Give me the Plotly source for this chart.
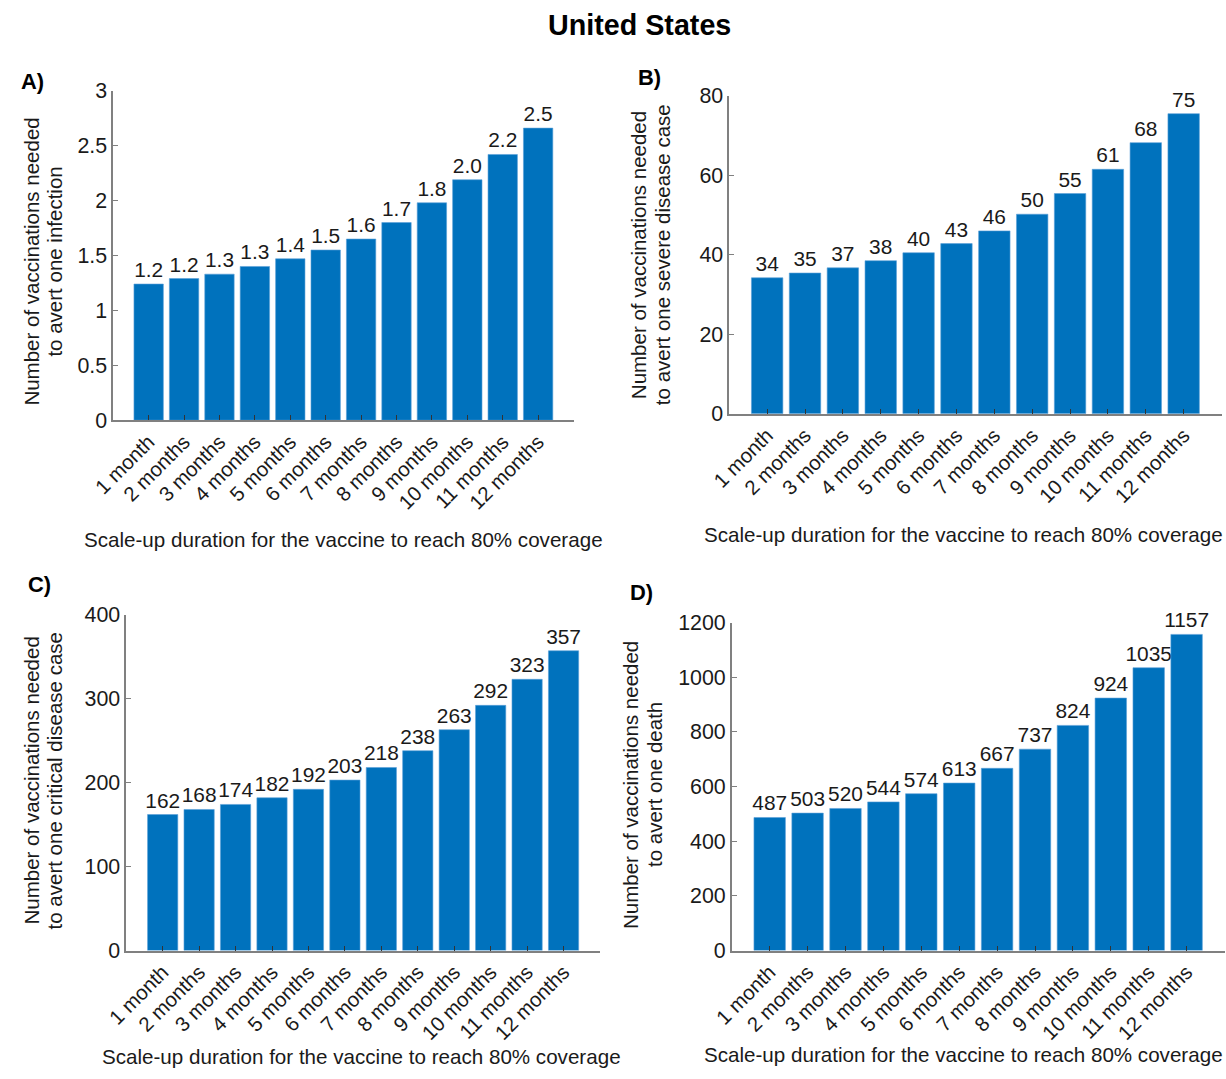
import plotly.graph_objects as go

W, H = 1226, 1079

categories = ["1 month"] + [f"{i} months" for i in range(2, 13)]

# Panel A: infections
vals_a = [1.24, 1.29, 1.33, 1.40, 1.47, 1.55, 1.65, 1.80, 1.98, 2.19, 2.42, 2.66]
labels_a = ["1.2", "1.2", "1.3", "1.3", "1.4", "1.5", "1.6", "1.7", "1.8", "2.0", "2.2", "2.5"]
# Panel B: severe disease
vals_b = [34.2, 35.4, 36.7, 38.5, 40.5, 42.8, 46.0, 50.2, 55.4, 61.5, 68.2, 75.5]
labels_b = ["34", "35", "37", "38", "40", "43", "46", "50", "55", "61", "68", "75"]
# Panel C: critical disease
vals_c = [162, 168, 174, 182, 192, 203, 218, 238, 263, 292, 323, 357]
labels_c = [str(v) for v in vals_c]
# Panel D: deaths
vals_d = [487, 503, 520, 544, 574, 613, 667, 737, 824, 924, 1035, 1157]
labels_d = [str(v) for v in vals_d]

ytitle_line1 = "Number of vaccinations needed"
ytitle_line2 = [
    "to avert one infection",
    "to avert one severe disease case",
    "to avert one critical disease case",
    "to avert one death",
]
xtitle = "Scale-up duration for the vaccine to reach 80% coverage"
panel_letters = ["A)", "B)", "C)", "D)"]
yranges = [[0, 3], [0, 80], [0, 400], [0, 1200]]
ydticks = [0.5, 20, 100, 200]

# target positions in picture pixels (left, right, top, bottom)
boxes = [
    (111, 572, 91, 420.5),
    (728, 1221, 96, 414),
    (124, 598.5, 615, 951),
    (730.5, 1224, 623, 951),
]
# y-title: (x of line 1, x of line 2, y centre)
ytitle_pos = [(29.5, 52.5, 262), (637, 661, 255), (29.5, 52.5, 781), (629, 653, 785)]
xtitle_pos = [(342, 540), (963, 535), (360, 1056.5), (963, 1055)]
letter_pos = [(30, 82), (648, 78), (37, 585), (640, 593)]

# measured picture mapping of the rendered page
SX, OX = 0.9836, 19.6
SY, OY = 0.978, 12.2

FONT = "Liberation Sans, Arial, Helvetica, sans-serif"
BLUE = "#0072BD"
AXC = "#808080"
TXT = "#1a1a1a"

fig = go.Figure()
datasets = [(vals_a, labels_a), (vals_b, labels_b), (vals_c, labels_c), (vals_d, labels_d)]

def px2x(p):
    f = (p - OX) / SX
    return min(max(f / W, 0), 1)

def px2y(p):
    f = (p - OY) / SY
    return min(max(1 - f / H, 0), 1)

for i, (vals, labs) in enumerate(datasets):
    n = "" if i == 0 else str(i + 1)
    fig.add_trace(go.Bar(
        x=list(range(len(categories))), y=vals, text=labs,
        textposition="outside", cliponaxis=False, constraintext="none",
        textfont=dict(family=FONT, size=20.9, color=TXT),
        marker=dict(color=BLUE, line=dict(color="#5aa0d8", width=0.6)),
        xaxis="x" + n, yaxis="y" + n, showlegend=False,
    ))
    l, r, t, b = boxes[i]
    fig.layout["xaxis" + n] = dict(
        domain=[px2x(l), px2x(r)], anchor="y" + n,
        range=[-1, 12], tickmode="array",
        tickvals=list(range(len(categories))), ticktext=categories,
        tickangle=-45, ticks="inside", ticklen=5, tickcolor="#333",
        showline=True, linecolor=AXC, linewidth=1.5, showgrid=False, zeroline=False,
        tickfont=dict(family=FONT, size=20.4, color=TXT),
    )
    fig.layout["yaxis" + n] = dict(
        domain=[px2y(b), px2y(t)], anchor="x" + n,
        range=yranges[i], dtick=ydticks[i], tick0=0,
        ticks="inside", ticklen=5, tickcolor=AXC,
        showline=True, linecolor=AXC, linewidth=1.5, showgrid=False, zeroline=False,
        tickfont=dict(family=FONT, size=21.4, color=TXT),
    )
    x1, x2, yc = ytitle_pos[i]
    for xx_, txt in ((x1, ytitle_line1), (x2, ytitle_line2[i])):
        fig.add_annotation(x=px2x(xx_), y=px2y(yc), xref="paper", yref="paper",
                           text=txt, textangle=-90, showarrow=False,
                           font=dict(family=FONT, size=20.5, color=TXT),
                           xanchor="center", yanchor="middle")
    xx, xy = xtitle_pos[i]
    fig.add_annotation(x=px2x(xx), y=px2y(xy), xref="paper", yref="paper",
                       text=xtitle, showarrow=False,
                       font=dict(family=FONT, size=20.6, color=TXT),
                       xanchor="center", yanchor="middle")
    lx, ly = letter_pos[i]
    fig.add_annotation(x=px2x(lx), y=px2y(ly), xref="paper", yref="paper",
                       text="<b>" + panel_letters[i] + "</b>", showarrow=False,
                       font=dict(family=FONT, size=21.9, color="#000"),
                       xanchor="center", yanchor="middle")

fig.add_annotation(x=px2x(638), y=px2y(25), xref="paper", yref="paper",
                   text="<b>United States</b>", showarrow=False,
                   font=dict(family=FONT, size=28.7, color="#000"),
                   xanchor="center", yanchor="middle")

fig.update_layout(
    width=W, height=H, margin=dict(l=0, r=0, t=0, b=0),
    paper_bgcolor="white", plot_bgcolor="white",
    bargap=0.17, font=dict(family=FONT),
)

fig.write_html("out.html", config={"displayModeBar": False},
               post_script="document.body.style.margin='0';")
